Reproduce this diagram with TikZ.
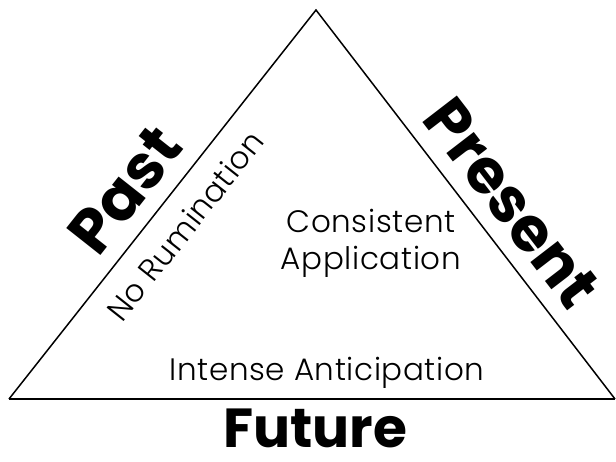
\documentclass[tikz,border=0pt]{standalone}
\usepackage{fontspec}
\setmainfont{Poppins}
\newfontfamily\thinfont[LetterSpace=2]{Poppins Light}
\usetikzlibrary{positioning}

\begin{document}
\begin{tikzpicture}[x=1pt,y=-1pt,semithick]
  \tikzstyle{time}=[font=\fontsize{62}{62}\selectfont\bfseries, inner sep=0pt]
  \tikzstyle{trait}=[font=\thinfont\fontsize{31}{37}\selectfont, inner sep=0pt, align=center]
  \useasboundingbox (0,0) rectangle (616,461);
  \coordinate (top) at (316,10);
  \coordinate (left) at (9,399);
  \coordinate (right) at (615,399);
  \draw[line width=1.5pt] (left) -- (top) -- (right);
  \draw[line width=2.3pt] (left) -- (right);
  \node[time, rotate=51.7]  (past)    at (125,190) {Past};
  \node[time, rotate=-52.4] (present) at (512,203) {Present};
  \node[time, font=\fontsize{55}{55}\selectfont\bfseries, anchor=base] (future) at (315,447) {Future};
  \node[trait, rotate=51.7] (rumin)   at (185,226) {No Rumination};
  \node[trait]              (consist) at (371,243) {Consistent\\Application};
  \node[trait]              (anticip) at (327,373) {Intense Anticipation};
\end{tikzpicture}
\end{document}
